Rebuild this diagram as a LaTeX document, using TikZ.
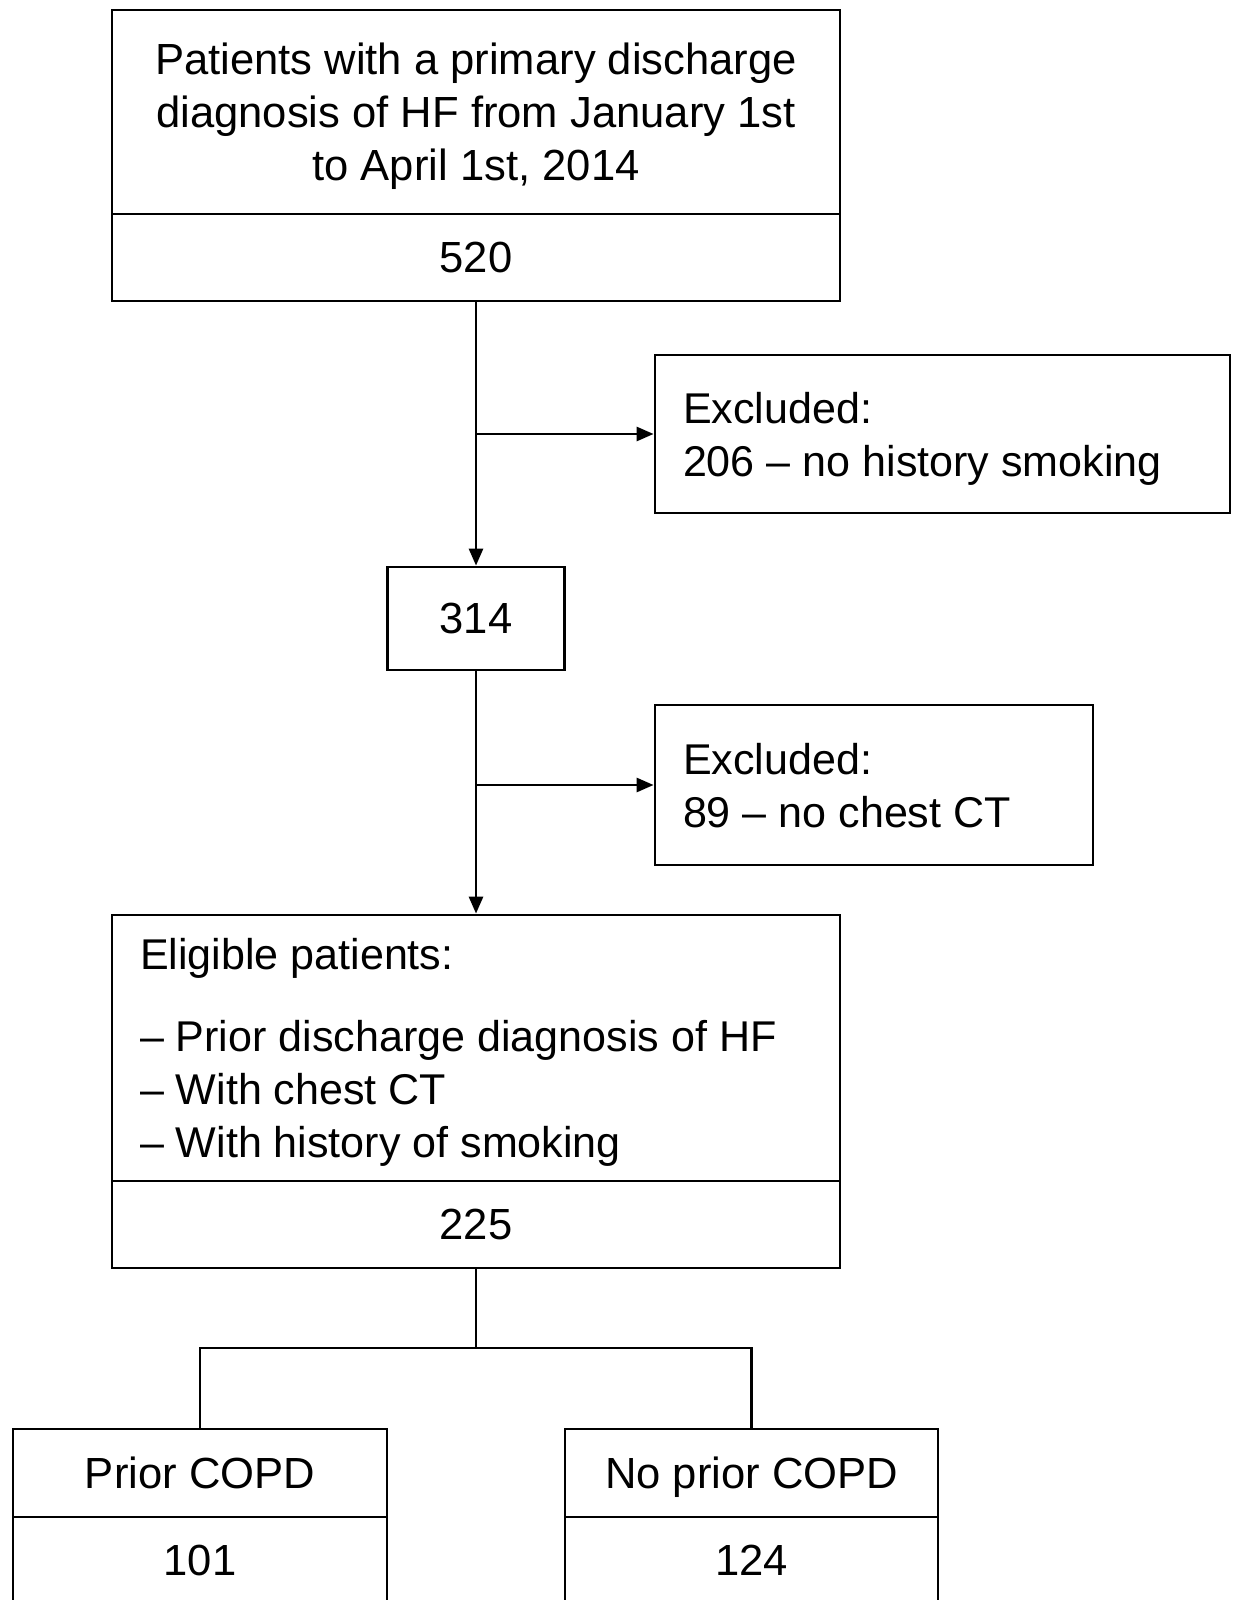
\documentclass[tikz,border=0pt]{standalone}
\usepackage{fontspec}
\setmainfont{Liberation Sans}
\usepackage{tikz}
\usetikzlibrary{arrows.meta}

\newcommand{\lefttext}[2]{\parbox[b]{#1}{\raggedright #2}}

\begin{document}
\begin{tikzpicture}[>={Triangle[length=0.17cm,width=0.14cm]},
	box/.style={draw, line width=0.8pt, inner sep=0pt, align=center, text depth=0pt, font=\fontsize{12.4}{15.1}\selectfont},
	lbox/.style={box, align=none, inner xsep=0.28cm, font=\fontsize{12.25}{15.1}\selectfont}]
		\useasboundingbox (0,0) rectangle (12.35,-16.00);

		\node[box, minimum width=7.28cm, minimum height=2.04cm] (hf) at (4.76,-1.12) {Patients with a primary discharge\\diagnosis of HF from January 1st\\to April 1st, 2014};
		\node[box, minimum width=7.28cm, minimum height=0.87cm] (n520) at (4.76,-2.575) {520};

		\node[lbox, minimum height=1.58cm] (exA) at (9.425,-4.34) {\lefttext{5.19cm}{Excluded:\\206 \textendash{} no history smoking}};
		\node[box, minimum width=1.77cm, minimum height=1.03cm] (n314) at (4.76,-6.185) {314};
		\node[lbox, minimum height=1.60cm] (exB) at (8.74,-7.85) {\lefttext{3.82cm}{Excluded:\\89 \textendash{} no chest CT}};

		\node[lbox, minimum height=2.66cm] (elig) at (4.76,-10.48) {\lefttext{6.72cm}{Eligible patients:\\[0.29cm]\textendash{} Prior discharge diagnosis of HF\\\textendash{} With chest CT\\\textendash{} With history of smoking}};
		\node[box, minimum width=7.28cm, minimum height=0.87cm] (n225) at (4.76,-12.245) {225};

		\node[box, minimum width=3.74cm, minimum height=0.88cm] (copd) at (2.00,-14.73) {Prior COPD};
		\node[box, minimum width=3.74cm, minimum height=0.87cm] (n101) at (2.00,-15.605) {101};
		\node[box, minimum width=3.73cm, minimum height=0.88cm] (nocopd) at (7.515,-14.73) {No prior COPD};
		\node[box, minimum width=3.73cm, minimum height=0.87cm] (n124) at (7.515,-15.605) {124};

		\coordinate (jA) at (4.76,-4.34);
		\coordinate (jB) at (4.76,-7.85);
		\coordinate (split) at (4.76,-13.48);

		\draw[->, line width=0.8pt](n520.south)--(n314.north);
		\draw[->, line width=0.8pt](jA)--(exA.west);
		\draw[->, line width=0.8pt](n314.south)--(elig.north);
		\draw[->, line width=0.8pt](jB)--(exB.west);
		\draw[-, line width=0.8pt](n225.south)--(split);
		\draw[-, line width=0.8pt](split)-|(copd.north);
		\draw[-, line width=0.8pt](split)-|(nocopd.north);

	\end{tikzpicture}
\end{document}
